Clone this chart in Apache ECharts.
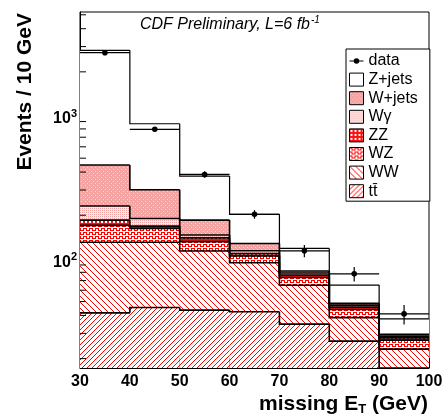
<!DOCTYPE html>
<html>
<head>
<meta charset="utf-8">
<script src="https://cdn.jsdelivr.net/npm/echarts@6/dist/echarts.min.js"></script>
<style>
html, body { margin: 0; padding: 0; background: #fff; }
#chart { width: 448px; height: 416px; }
</style>
</head>
<body>
<div id="chart"></div>
<script>
// missing ET distribution, 10 GeV bins
var binEdges = [30, 40, 50, 60, 70, 80, 90, 100];
var dataCounts = [2720, 795, 385, 203, 113, 78, 41];
var dataErrors = [52, 28, 20, 14, 11, 9, 6.4];

// backgrounds, stacked from the bottom up
var ttbar  = [41.7, 45.5, 43.6, 42.4, 34.8, 26.5, 15];
var ww     = [87.8, 84, 68.9, 50.8, 30.2, 12.1, 8.3];
var wz     = [40.5, 32.5, 18.5, 10.6, 8.5, 5.4, 3.6];
var zz     = [15, 6, 8, 4.2, 3, 1.7, 1.0];
var wgamma = [47, 22, 6.5, 5, 2.5, 1.5, 0.8];
var wjets  = [216, 111, 39.5, 14, 2.6, 1.5, 0.9];
var zjets  = [2380, 568, 190, 76, 35.8, 16.4, 8.2];

var yMinorTicks = [20, 30, 40, 50, 60, 70, 80, 90, 200, 300, 400, 500, 600, 700, 800, 900, 2000, 3000, 4000, 5000];
var yMin = 17.2, yMax = 5230;

var FONT = '"Liberation Sans", Arial, Helvetica, sans-serif';

function tile(w, h, bg, fg, pixels) {
    var c = document.createElement('canvas');
    c.width = w; c.height = h;
    var ctx = c.getContext('2d');
    if (bg) { ctx.fillStyle = bg; ctx.fillRect(0, 0, w, h); }
    ctx.fillStyle = fg;
    pixels.forEach(function (p) { ctx.fillRect(p[0], p[1], 1, 1); });
    return { image: c, repeat: 'repeat' };
}

var i, px;
px = []; for (i = 0; i < 5; i++) px.push([i, 4 - i]);
var patTT = tile(5, 5, '#fff', '#ff0000', px);
px = []; for (i = 0; i < 6; i++) px.push([i, i]);
var patWW = tile(6, 6, '#fff', '#ff0000', px);
var patWZ = tile(6, 4, '#fff', '#ff0000', [[0,0],[1,0],[2,0],[2,1],[2,2],[3,2],[4,2],[5,2],[5,1],[5,0]]);
var patZZ = tile(4, 4, '#ff1010', '#fff', [[1,1],[2,1],[1,2],[2,2]]);
var patWG = tile(2, 2, '#fde8e8', '#f2a6a6', [[0,0]]);
var patWJ = tile(4, 4, '#f4a2a2', '#fbd6d6', [[1,1],[3,3]]);

var components = [
    { name: 'tt\u0304', values: ttbar, fill: patTT },
    { name: 'WW', values: ww, fill: patWW },
    { name: 'WZ', values: wz, fill: patWZ },
    { name: 'ZZ', values: zz, fill: patZZ },
    { name: 'W\u03b3', values: wgamma, fill: patWG },
    { name: 'W+jets', values: wjets, fill: patWJ },
    { name: 'Z+jets', values: zjets, fill: '#ffffff' }
];

function clipRect(params) {
    return { x: params.coordSys.x, y: params.coordSys.y, width: params.coordSys.width, height: params.coordSys.height };
}

function makeStackRender(fill, lw) {
    return function (params, api) {
        var x0 = api.value(0), x1 = api.value(1), lo = api.value(2), hi = api.value(3), prev = api.value(4);
        var a = api.coord([x0, hi]);
        var b = api.coord([x1, lo]);
        var cs = clipRect(params);
        var children = [];
        var r = echarts.graphic.clipRectByRect({ x: a[0], y: a[1], width: b[0] - a[0], height: b[1] - a[1] }, cs);
        if (r) children.push({ type: 'rect', shape: r, style: { fill: fill }, z2: 0 });
        var pts = [];
        if (params.dataIndex > 0) pts.push(api.coord([x0, prev]));
        pts.push(a, api.coord([x1, hi]));
        pts = echarts.graphic.clipPointsByRect(pts, cs);
        children.push({ type: 'polyline', shape: { points: pts }, style: { stroke: '#000', lineWidth: lw, fill: null }, z2: 10 });
        return { type: 'group', children: children };
    };
}

var series = [];
var cumulative = binEdges.slice(0, -1).map(function () { return yMin; });
components.forEach(function (comp, k) {
    var items = [];
    var prevTop = null;
    comp.values.forEach(function (v, b) {
        var lo = cumulative[b];
        var hi = (k === 0 ? 0 : lo) + v;
        items.push([binEdges[b], binEdges[b + 1], lo, hi, prevTop === null ? hi : prevTop]);
        prevTop = hi;
        cumulative[b] = hi;
    });
    series.push({
        name: comp.name,
        type: 'custom',
        renderItem: makeStackRender(comp.fill, comp.name === 'Z+jets' ? 1.2 : 1.6),
        itemStyle: { color: comp.fill, borderColor: '#000', borderWidth: 1 },
        encode: { x: [0, 1], y: [2, 3] },
        data: items,
        silent: true,
        z: 2
    });
});

var dataItems = dataCounts.map(function (v, b) {
    return [binEdges[b], binEdges[b + 1], (binEdges[b] + binEdges[b + 1]) / 2, v, v - dataErrors[b], v + dataErrors[b]];
});
series.push({
    name: 'data',
    type: 'custom',
    itemStyle: { color: '#000' },
    encode: { x: [0, 1], y: [3, 4, 5] },
    data: dataItems,
    z: 5,
    silent: true,
    renderItem: function (params, api) {
        var pL = api.coord([api.value(0), api.value(3)]);
        var pR = api.coord([api.value(1), api.value(3)]);
        var pLo = api.coord([api.value(2), api.value(4)]);
        var pHi = api.coord([api.value(2), api.value(5)]);
        var c = api.coord([api.value(2), api.value(3)]);
        return { type: 'group', children: [
            { type: 'line', shape: { x1: pL[0], y1: pL[1], x2: pR[0], y2: pR[1] }, style: { stroke: '#000', lineWidth: 1.2 } },
            { type: 'line', shape: { x1: pLo[0], y1: pLo[1], x2: pHi[0], y2: pHi[1] }, style: { stroke: '#000', lineWidth: 1.2 } },
            { type: 'circle', shape: { cx: c[0], cy: c[1], r: 2.8 }, style: { fill: '#000' } }
        ] };
    }
});

// log-axis minor ticks at 2..9 x 10^n
series.push({
    name: 'minorTicks',
    type: 'custom',
    data: yMinorTicks.map(function (v) { return [30, v]; }),
    z: 6,
    silent: true,
    renderItem: function (params, api) {
        var p = api.coord([api.value(0), api.value(1)]);
        return { type: 'line', shape: { x1: p[0], y1: p[1], x2: p[0] + 6, y2: p[1] }, style: { stroke: '#000', lineWidth: 1 } };
    }
});

// title with superscript
var titleMain = 'CDF Preliminary, L=6 fb';
var mctx = document.createElement('canvas').getContext('2d');
mctx.font = 'italic 16px ' + FONT;
var titleW = mctx.measureText(titleMain).width;

var chart = echarts.init(document.getElementById('chart'));
chart.setOption({
    animation: false,
    backgroundColor: '#fff',
    grid: { left: 80, right: 19, top: 12, bottom: 48, show: true, borderColor: '#000', borderWidth: 1, backgroundColor: 'transparent' },
    xAxis: {
        type: 'value', min: 30, max: 100, interval: 10,
        axisLine: { lineStyle: { color: '#000', width: 1 } },
        axisTick: { inside: true, length: 10, lineStyle: { color: '#000' } },
        minorTick: { show: true, splitNumber: 5, length: 5, lineStyle: { color: '#000' } },
        splitLine: { show: false },
        axisLabel: { color: '#000', fontFamily: FONT, fontWeight: 'bold', fontSize: 16, margin: 6 }
    },
    yAxis: {
        type: 'log', min: yMin, max: yMax, logBase: 10,
        axisLine: { show: true, lineStyle: { color: '#000', width: 1 } },
        axisTick: { inside: true, length: 12, lineStyle: { color: '#000' } },
        splitLine: { show: false },
        axisLabel: {
            showMinLabel: false, showMaxLabel: false, margin: 3, padding: [8, 0, 0, 0],
            formatter: function (v) { return '{b|10}{s|' + Math.round(Math.log10(v)) + '}'; },
            rich: {
                b: { fontFamily: FONT, fontWeight: 'bold', fontSize: 16, color: '#000', lineHeight: 22 },
                s: { fontFamily: FONT, fontWeight: 'bold', fontSize: 11, color: '#000', lineHeight: 12, verticalAlign: 'top' }
            }
        }
    },
    legend: {
        orient: 'vertical', left: 346, top: 49,
        padding: [4, 12, 2, 3],
        backgroundColor: '#fff', borderColor: '#000', borderWidth: 1,
        itemWidth: 14, itemHeight: 13, itemGap: 2.6, itemTextGap: 3,
        icon: 'rect',
        selectedMode: false,
        itemStyle: { borderColor: '#000', borderWidth: 1 },
        textStyle: { fontFamily: FONT, fontSize: 16, color: '#000', lineHeight: 15 },
        data: [
            { name: 'data', icon: 'path://M0,4.4h14v1.2h-14z M4.2,5a2.8,2.8 0 1,1 5.6,0a2.8,2.8 0 1,1 -5.6,0z', itemStyle: { color: '#000', borderWidth: 0 } },
            'Z+jets', 'W+jets', 'W\u03b3', 'ZZ', 'WZ', 'WW', 'tt\u0304'
        ]
    },
    graphic: [
        { type: 'text', x: 140, y: 25, silent: true,
          style: { text: titleMain, font: 'italic 16px ' + FONT, fill: '#000', align: 'left', verticalAlign: 'middle', textAlign: 'left', textVerticalAlign: 'middle' } },
        { type: 'text', x: 140 + titleW + 1, y: 20, silent: true,
          style: { text: '-1', font: 'italic 10px ' + FONT, fill: '#000', align: 'left', verticalAlign: 'middle', textAlign: 'left', textVerticalAlign: 'middle' } },
        { type: 'text', x: 25.5, y: 13, rotation: Math.PI / 2, silent: true,
          style: { text: 'Events / 10 GeV', font: 'bold 21px ' + FONT, fill: '#000', align: 'right', verticalAlign: 'middle', textAlign: 'right', textVerticalAlign: 'middle' } },
        { type: 'text', x: 428, y: 404, silent: true,
          style: {
              text: '{a|missing E}{t|T}{a| (GeV)}', fill: '#000',
              align: 'right', verticalAlign: 'middle', textAlign: 'right', textVerticalAlign: 'middle',
              rich: {
                  a: { fontFamily: FONT, fontWeight: 'bold', fontSize: 21, lineHeight: 24, fill: '#000' },
                  t: { fontFamily: FONT, fontWeight: 'bold', fontSize: 13, lineHeight: 12, verticalAlign: 'bottom', fill: '#000' }
              }
          } }
    ],
    series: series
});
</script>
</body>
</html>
